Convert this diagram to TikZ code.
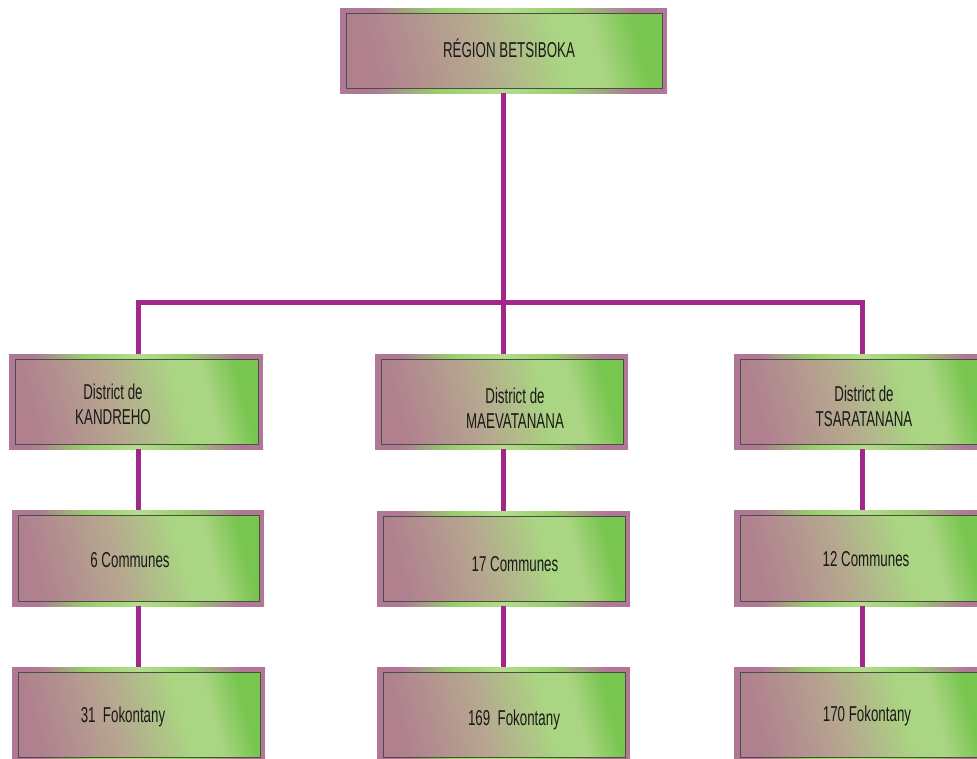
\documentclass[tikz,border=0pt]{standalone}
\usepackage{fontspec}
\setmainfont[FakeStretch=0.62]{Liberation Sans}
\usetikzlibrary{fit}
\definecolor{pm}{HTML}{B0808F}
\definecolor{pt}{HTML}{B6A68F}
\definecolor{pl}{HTML}{AAD582}
\definecolor{pg}{HTML}{78C550}
\definecolor{sm}{HTML}{B07896}
\definecolor{sg}{HTML}{98CE6C}
\definecolor{sl}{HTML}{B4DC8C}
\definecolor{edge}{HTML}{44523F}
\definecolor{link}{HTML}{A2278A}
\pgfdeclarehorizontalshading{panel}{100bp}{color(0bp)=(pm); color(25bp)=(pm); color(44bp)=(pt); color(60bp)=(pl); color(67bp)=(pl); color(75bp)=(pg); color(100bp)=(pg)}
\pgfdeclarehorizontalshading{strip}{100bp}{color(0bp)=(sm); color(30bp)=(sm); color(40bp)=(sg); color(50bp)=(sl); color(60bp)=(sg); color(70bp)=(sm); color(100bp)=(sm)}
\tikzset{
  conn/.style={draw=link, line width=5pt},
  lbl/.style={font=\fontsize{21.5}{25}\selectfont, align=center, inner sep=0pt, text=black!90},
  framefill/.style={fill=sm},
  stripfill/.style={shading=strip, shading angle=0},
  panelfill/.style={shading=panel, shading angle=15, draw=edge, line width=0.8pt},
}
% name, x1, y1, x2, y2
\newcommand\orgbox[5]{%
  \fill[framefill] (#2,#3) rectangle (#4,#5);
  \shade[stripfill] (#2,#3) rectangle (#4,#3+5);
  \shade[stripfill] (#2,#5-5) rectangle (#4,#5);
  \path[panelfill] (#2+6,#3+5) rectangle (#4-5,#5-5);
  \node[fit={(#2,#3)(#4,#5)}, inner sep=0pt] (#1) {};
}
\begin{document}
\begin{tikzpicture}[x=1pt, y=-1pt]
\fill[white] (0,0) rectangle (977,758);
\useasboundingbox (0,0) rectangle (977,758);
\clip (0,0) rectangle (977,758);
% boxes
\orgbox{reg}{340}{8}{667}{93}
\orgbox{dK}{9}{354}{263}{449}
\orgbox{dM}{375}{354}{628}{449}
\orgbox{dT}{734}{354}{990}{449}
\orgbox{cK}{12}{510}{264}{606}
\orgbox{cM}{377}{511}{630}{606}
\orgbox{cT}{734}{510}{990}{606}
\orgbox{fK}{12}{667}{265}{762}
\orgbox{fM}{377}{667}{630}{762}
\orgbox{fT}{734}{667}{990}{762}
% labels
\node[lbl] (treg) at (509,48) {RÉGION BETSIBOKA};
\node[lbl] (tdK) at (113,404) {District de\\KANDREHO};
\node[lbl] (tdM) at (515,408) {District de\\MAEVATANANA};
\node[lbl] (tdT) at (864,406) {District de\\TSARATANANA};
\node[lbl] (tcK) at (130,560) {6 Communes};
\node[lbl] (tcM) at (515,564) {17 Communes};
\node[lbl] (tcT) at (866,559) {12 Communes};
\node[lbl] (tfK) at (123,717) {31~~Fokontany};
\node[lbl] (tfM) at (514,720) {169~~Fokontany};
\node[lbl] (tfT) at (867,716) {170 Fokontany};
% connectors
\coordinate (bus) at (503,302);
\coordinate (busL) at (138,302);
\coordinate (busR) at (862,302);
\draw[conn] (bus |- reg.south) -- (bus);
\draw[conn] (busL |- dK.north) -- (busL) -- (busR) -- (busR |- dT.north);
\draw[conn] (bus) -- (bus |- dM.north);
\draw[conn] (busL |- dK.south) -- (busL |- cK.north);
\draw[conn] (bus |- dM.south) -- (bus |- cM.north);
\draw[conn] (busR |- dT.south) -- (busR |- cT.north);
\draw[conn] (busL |- cK.south) -- (busL |- fK.north);
\draw[conn] (bus |- cM.south) -- (bus |- fM.north);
\draw[conn] (busR |- cT.south) -- (busR |- fT.north);
\end{tikzpicture}
\end{document}
